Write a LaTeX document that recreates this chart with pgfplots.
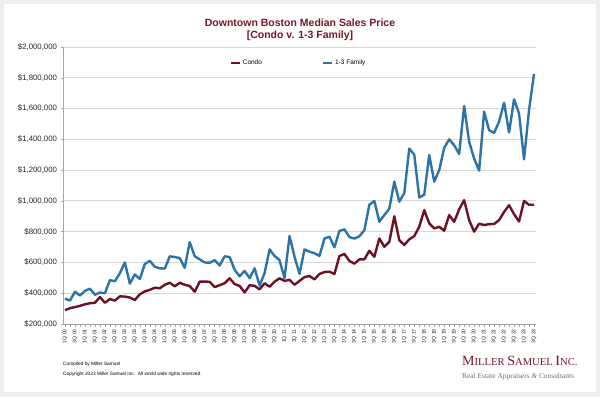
\documentclass[border=0pt]{standalone}
\usepackage{fontspec}
\setmainfont{Liberation Sans}
\newfontfamily\seriffont{Liberation Serif}
\usepackage{pgfplots}
\pgfplotsset{compat=1.18}
\usepackage{pgfplotstable}
\definecolor{condored}{RGB}{110,16,34}
\definecolor{famblue}{RGB}{44,116,168}
\definecolor{titlered}{RGB}{118,22,40}
\definecolor{gridc}{RGB}{214,214,214}
\definecolor{outer}{RGB}{238,238,238}
\definecolor{logogray}{RGB}{110,110,110}
\pgfplotstableread{
i condo family
0 290 365
1 303 352
2 310 410
3 318 385
4 328 415
5 335 430
6 338 390
7 375 405
8 338 400
9 362 485
10 352 478
11 380 530
12 378 600
13 372 462
14 356 522
15 393 492
16 412 590
17 422 610
18 436 572
19 432 562
20 455 560
21 468 640
22 445 635
23 468 628
24 455 565
25 447 732
26 410 640
27 475 620
28 476 600
29 474 598
30 440 615
31 452 580
32 465 640
33 497 635
34 460 552
35 447 510
36 405 545
37 452 498
38 448 562
39 425 450
40 465 530
41 442 685
42 475 642
43 497 615
44 480 498
45 487 772
46 455 638
47 480 525
48 505 685
49 512 670
50 490 660
51 525 642
52 538 755
53 540 767
54 525 698
55 642 805
56 655 815
57 610 765
58 592 755
59 620 770
60 620 810
61 676 975
62 637 1000
63 756 865
64 702 908
65 734 950
66 900 1125
67 745 995
68 713 1050
69 750 1340
70 771 1300
71 832 1022
72 940 1040
73 854 1298
74 821 1125
75 832 1200
76 806 1345
77 908 1400
78 864 1362
79 945 1305
80 1005 1617
81 875 1385
82 800 1275
83 852 1197
84 843 1580
85 849 1460
86 850 1442
87 875 1515
88 928 1638
89 972 1445
90 914 1660
91 866 1568
92 1000 1270
93 975 1590
94 975 1825
}\datatable
\begin{document}
\begin{tikzpicture}
\useasboundingbox (0,0) rectangle (600pt,397pt);
\fill[outer] (0,0) rectangle (600pt,397pt);
\fill[white] (4pt,5pt) rectangle (596pt,393pt);
\begin{axis}[
  at={(63pt,73pt)}, anchor=south west,
  scale only axis, width=473pt, height=277pt,
  xmin=-0.4, xmax=94.4, ymin=200, ymax=2000,
  axis x line*=bottom, axis y line*=left,
  axis line style={draw=gray!70, line width=0.6pt},
  ytick={200,400,...,2000},
  yticklabels={{\$200,000},{\$400,000},{\$600,000},{\$800,000},{\$1,000,000},{\$1,200,000},{\$1,400,000},{\$1,600,000},{\$1,800,000},{\$2,000,000}},
  yticklabel style={font=\fontsize{7.8}{8}\selectfont, text=black!85},
  ymajorgrids, grid style={draw=gridc, line width=0.8pt},
  xtick={0,2,...,94},
  xticklabels={1Q 00,3Q 00,1Q 01,3Q 01,1Q 02,3Q 02,1Q 03,3Q 03,1Q 04,3Q 04,1Q 05,3Q 05,1Q 06,3Q 06,1Q 07,3Q 07,1Q 08,3Q 08,1Q 09,3Q 09,1Q 10,3Q 10,1Q 11,3Q 11,1Q 12,3Q 12,1Q 13,3Q 13,1Q 14,3Q 14,1Q 15,3Q 15,1Q 16,3Q 16,1Q 17,3Q 17,1Q 18,3Q 18,1Q 19,3Q 19,1Q 20,3Q 20,1Q 21,3Q 21,1Q 22,3Q 22,1Q 23,3Q 23},
  x tick label style={rotate=90, anchor=east, font=\fontsize{5.2}{5}\selectfont, text=black!85, inner sep=2.5pt},
  minor x tick num=1,
  tick align=outside,
  major tick length=2.5pt, minor tick length=2.5pt,
  tick style={draw=gray!70, line width=0.5pt},
  legend columns=2,
  legend style={at={(0.498,0.943)}, anchor=center, draw=none, fill=none,
    font=\fontsize{6.5}{7}\selectfont, /tikz/every even column/.append style={column sep=58pt}},
  legend image code/.code={\draw[#1, line width=2.2pt] (0pt,0pt) -- (9pt,0pt);},
  clip=false,
]
\addplot[draw=condored, line width=2.4pt, line join=round] table[x=i, y=condo] {\datatable};
\addlegendentry{Condo}
\addplot[draw=famblue, line width=2.4pt, line join=round] table[x=i, y=family] {\datatable};
\addlegendentry{1-3 Family}
\end{axis}
\node[text=titlered, font=\bfseries\fontsize{10.5}{12}\selectfont, align=center] at (300pt,367pt) {Downtown Boston Median Sales Price\\{[Condo v. 1-3 Family]}};
\node[anchor=west, font=\fontsize{4.8}{5}\selectfont, inner sep=0pt] at (63pt,33pt) {Compiled by Miller Samuel};
\node[anchor=west, font=\fontsize{4.8}{5}\selectfont, inner sep=0pt] at (63pt,23pt) {Copyright 2023 Miller Samuel Inc.\ \ All world wide rights reserved.};
\node[anchor=west, text=titlered, inner sep=0pt, font=\seriffont] at (462pt,36pt) {{\fontsize{14}{14}\selectfont M}{\fontsize{10.6}{14}\selectfont ILLER }{\fontsize{14}{14}\selectfont S}{\fontsize{10.6}{14}\selectfont AMUEL }{\fontsize{14}{14}\selectfont I}{\fontsize{10.6}{14}\selectfont NC.}};
\node[anchor=west, text=logogray, inner sep=0pt, font=\seriffont\fontsize{7.4}{8}\selectfont] at (462pt,20pt) {Real Estate Appraisers \textit{\&} Consultants};
\end{tikzpicture}
\end{document}
